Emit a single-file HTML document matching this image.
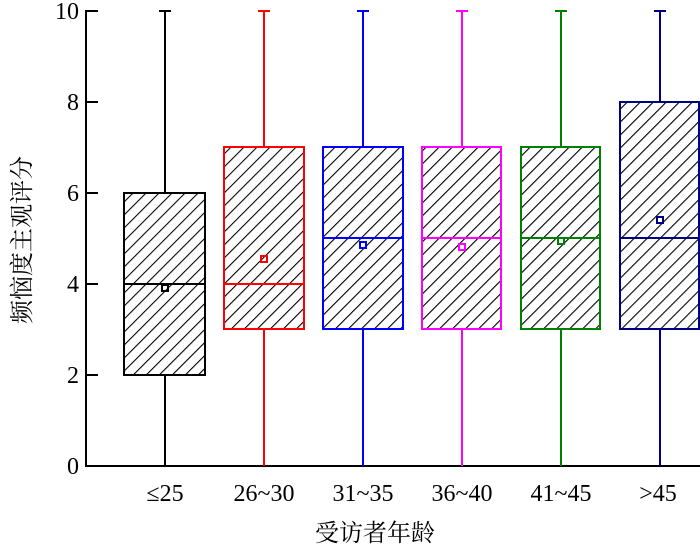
<!DOCTYPE html><html><head><style>body{margin:0;background:#fff}svg{display:block}text{font-family:"Liberation Serif","Noto Serif CJK SC",serif;fill:#000}</style></head><body>
<svg width="700" height="549" xmlns="http://www.w3.org/2000/svg">
<defs><pattern id="h" patternUnits="userSpaceOnUse" width="9.2" height="9.2" patternTransform="rotate(45)"><line x1="0" y1="0" x2="0" y2="9.2" stroke="#000" stroke-width="2.2"/></pattern></defs>
<g stroke="#000" stroke-width="2" fill="none">
<line x1="86" y1="10" x2="86" y2="467"/><line x1="85" y1="466" x2="700" y2="466"/>
<line x1="86" y1="11" x2="98" y2="11"/><line x1="86" y1="102" x2="98" y2="102"/><line x1="86" y1="193" x2="98" y2="193"/><line x1="86" y1="284" x2="98" y2="284"/><line x1="86" y1="375" x2="98" y2="375"/>
</g>
<g font-size="24" text-anchor="end"><text x="79" y="19">10</text><text x="79" y="110">8</text><text x="79" y="201">6</text><text x="79" y="292">4</text><text x="79" y="383">2</text><text x="79" y="474">0</text></g>
<g font-size="24" text-anchor="middle"><text x="165" y="501">≤25</text><text x="264" y="501">26~30</text><text x="363" y="501">31~35</text><text x="462" y="501">36~40</text><text x="561" y="501">41~45</text><text x="658" y="501">&gt;45</text>
<text x="375" y="541">受访者年龄</text>
<text transform="translate(30,240) rotate(-90)">频恼度主观评分</text></g>
<g stroke-width="2" fill="url(#h)">
<g stroke="#000"><line x1="165" y1="11" x2="165" y2="193"/><line x1="165" y1="375" x2="165" y2="466"/><line x1="159" y1="11" x2="171" y2="11"/><rect x="124" y="193" width="81" height="182"/><line x1="124" y1="284" x2="205" y2="284"/><rect x="162" y="285" width="6" height="6" fill="none"/></g>
<g stroke="#f00"><line x1="264" y1="11" x2="264" y2="147"/><line x1="264" y1="329" x2="264" y2="466"/><line x1="258" y1="11" x2="270" y2="11"/><rect x="224" y="147" width="80" height="182"/><line x1="224" y1="284" x2="304" y2="284"/><rect x="261" y="256" width="6" height="6" fill="none"/></g>
<g stroke="#00f"><line x1="363" y1="11" x2="363" y2="147"/><line x1="363" y1="329" x2="363" y2="466"/><line x1="357" y1="11" x2="369" y2="11"/><rect x="323" y="147" width="80" height="182"/><line x1="323" y1="238" x2="403" y2="238"/><rect x="360" y="242" width="6" height="6" fill="none"/></g>
<g stroke="#f0f"><line x1="462" y1="11" x2="462" y2="147"/><line x1="462" y1="329" x2="462" y2="466"/><line x1="456" y1="11" x2="468" y2="11"/><rect x="422" y="147" width="79" height="182"/><line x1="422" y1="238" x2="501" y2="238"/><rect x="459" y="244" width="6" height="6" fill="none"/></g>
<g stroke="#008000"><line x1="561" y1="11" x2="561" y2="147"/><line x1="561" y1="329" x2="561" y2="466"/><line x1="555" y1="11" x2="567" y2="11"/><rect x="521" y="147" width="79" height="182"/><line x1="521" y1="238" x2="600" y2="238"/><rect x="558" y="238" width="6" height="6" fill="none"/></g>
<g stroke="#000080"><line x1="660" y1="11" x2="660" y2="102"/><line x1="660" y1="329" x2="660" y2="466"/><line x1="654" y1="11" x2="666" y2="11"/><rect x="620" y="102" width="79" height="227"/><line x1="620" y1="238" x2="700" y2="238"/><rect x="657" y="217" width="6" height="6" fill="none"/></g>
</g>
</svg></body></html>
